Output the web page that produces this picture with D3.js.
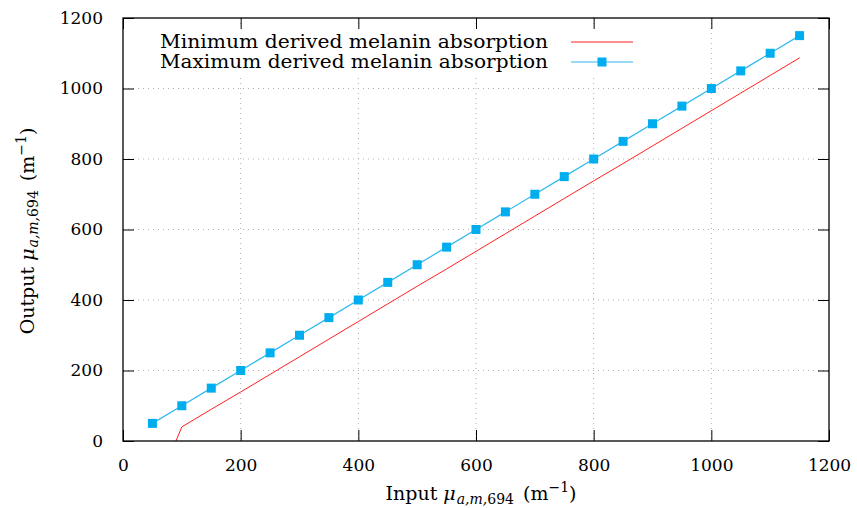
<!DOCTYPE html>
<html>
<head>
<meta charset="utf-8">
<script src="https://cdn.jsdelivr.net/npm/d3@7"></script>
<style>
  html, body { margin: 0; padding: 0; background: #fff; }
  svg { display: block; }
  text { font-family: "DejaVu Serif", "Liberation Serif", serif; fill: #000; }
</style>
</head>
<body>
<svg id="chart" width="857" height="508"></svg>
<script>
// Input absorption values (m^-1)
const inputValues = [50, 100, 150, 200, 250, 300, 350, 400, 450, 500, 550, 600,
                     650, 700, 750, 800, 850, 900, 950, 1000, 1050, 1100, 1150];
// Derived output using minimum melanin absorption
const minDerived = [-160, 40, 90, 139, 189, 239, 289, 339, 389, 439, 488, 538,
                    588, 638, 688, 738, 787, 837, 887, 937, 987, 1037, 1087];
// Derived output using maximum melanin absorption
const maxDerived = [50, 100, 150, 200, 250, 300, 350, 400, 450, 500, 550, 600,
                    650, 700, 750, 800, 850, 900, 950, 1000, 1050, 1100, 1150];
const xTicks = [0, 200, 400, 600, 800, 1000, 1200];
const yTicks = [0, 200, 400, 600, 800, 1000, 1200];
const seriesNames = ["Minimum derived melanin absorption", "Maximum derived melanin absorption"];

const plot = { left: 123, right: 829, top: 18, bottom: 441 };
const svg = d3.select("#chart");

const x = d3.scaleLinear().domain([0, 1200]).range([plot.left, plot.right]);
const y = d3.scaleLinear().domain([0, 1200]).range([plot.bottom, plot.top]);

const fontSize = 19;
const tickFont = 17;
const tickLen = 11;
const serif = "DejaVu Serif, Liberation Serif, serif";

// clip region for data
svg.append("defs").append("clipPath").attr("id", "plotclip")
  .append("rect").attr("x", plot.left).attr("y", plot.top)
  .attr("width", plot.right - plot.left).attr("height", plot.bottom - plot.top);

// grid
const grid = svg.append("g").attr("stroke", "#b0b0b0").attr("stroke-width", 1)
  .attr("stroke-dasharray", "1,4");
xTicks.slice(1, -1).forEach(t => {
  grid.append("line").attr("x1", x(t)).attr("x2", x(t))
    .attr("y1", plot.top).attr("y2", plot.bottom);
});
yTicks.slice(1, -1).forEach(t => {
  grid.append("line").attr("x1", plot.left).attr("x2", plot.right)
    .attr("y1", y(t)).attr("y2", y(t));
});

// legend background (opaque, hides the grid beneath the key)
const legendTop = 28, rowH = 20, legendRight = 548;
svg.append("rect").attr("x", 152).attr("y", legendTop).attr("width", 490).attr("height", 46)
  .attr("fill", "#fff");

// axes with inward ticks, mirrored on top and right
const axB = d3.axisBottom(x).tickValues(xTicks).tickSize(-tickLen).tickPadding(tickLen + 7).tickFormat(d3.format("d"));
const axT = d3.axisTop(x).tickValues(xTicks).tickSize(-tickLen).tickFormat("");
const axL = d3.axisLeft(y).tickValues(yTicks).tickSize(-tickLen).tickPadding(tickLen + 9).tickFormat(d3.format("d"));
const axR = d3.axisRight(y).tickValues(yTicks).tickSize(-tickLen).tickFormat("");

function styleAxis(g) {
  g.select(".domain").remove();
  g.selectAll(".tick line").attr("stroke", "#000").attr("stroke-width", 1);
  g.selectAll(".tick text").attr("font-size", tickFont)
    .attr("font-family", serif).attr("fill", "#000");
}
svg.append("g").attr("transform", `translate(0,${plot.bottom})`).call(axB).call(styleAxis);
svg.append("g").attr("transform", `translate(0,${plot.top})`).call(axT).call(styleAxis);
svg.append("g").attr("transform", `translate(${plot.left},0)`).call(axL).call(styleAxis);
svg.append("g").attr("transform", `translate(${plot.right},0)`).call(axR).call(styleAxis);

// series
const ptsMin = inputValues.map((v, i) => [v, minDerived[i]]);
const ptsMax = inputValues.map((v, i) => [v, maxDerived[i]]);
const line = d3.line().x(d => x(d[0])).y(d => y(d[1]));
const dataG = svg.append("g").attr("clip-path", "url(#plotclip)");

const redColor = "#ff2020", blueLine = "#30b8ee", blueMark = "#00aeef";

dataG.append("path").attr("d", line(ptsMin)).attr("fill", "none")
  .attr("stroke", redColor).attr("stroke-width", 1);
dataG.append("path").attr("d", line(ptsMax)).attr("fill", "none")
  .attr("stroke", blueLine).attr("stroke-width", 1.2);
const ms = 9;
dataG.selectAll("rect.mk").data(ptsMax).join("rect").attr("class", "mk")
  .attr("x", d => x(d[0]) - ms / 2).attr("y", d => y(d[1]) - ms / 2)
  .attr("width", ms).attr("height", ms).attr("fill", blueMark);

// border
svg.append("rect").attr("x", plot.left).attr("y", plot.top)
  .attr("width", plot.right - plot.left).attr("height", plot.bottom - plot.top)
  .attr("fill", "none").attr("stroke", "#000").attr("stroke-width", 1.3);

// legend
const legendG = svg.append("g");
seriesNames.forEach((name, i) => {
  const cy = legendTop + 14 + i * rowH;
  legendG.append("text").attr("x", legendRight).attr("y", cy + 6)
    .attr("text-anchor", "end").attr("font-size", fontSize)
    .attr("textLength", 388).attr("lengthAdjust", "spacingAndGlyphs").text(name);
  legendG.append("line").attr("x1", 571).attr("x2", 633).attr("y1", cy).attr("y2", cy)
    .attr("stroke", i === 0 ? redColor : blueLine).attr("stroke-width", i === 0 ? 1 : 1.2);
  if (i === 1) {
    legendG.append("rect").attr("x", 602 - ms / 2).attr("y", cy - ms / 2)
      .attr("width", ms).attr("height", ms).attr("fill", blueMark);
  }
});

// axis titles with math notation
function mathTitle(t, prefix) {
  t.append("tspan").text(prefix + " ");
  t.append("tspan").attr("font-style", "italic").text("μ");
  t.append("tspan").attr("font-size", 14).attr("dy", 4).attr("dx", 1).attr("font-style", "italic").text("a,m,");
  t.append("tspan").attr("font-size", 14).text("694");
  t.append("tspan").attr("dy", -4).attr("dx", 3).text(" (m");
  t.append("tspan").attr("font-size", 14).attr("dy", -8).text("−1");
  t.append("tspan").attr("dy", 8).text(")");
}
const xt = svg.append("text").attr("x", 481).attr("y", 500)
  .attr("text-anchor", "middle").attr("font-size", fontSize);
mathTitle(xt, "Input");
const yt = svg.append("text").attr("transform", `translate(34,231) rotate(-90)`)
  .attr("text-anchor", "middle").attr("font-size", fontSize);
mathTitle(yt, "Output");
</script>
</body>
</html>
